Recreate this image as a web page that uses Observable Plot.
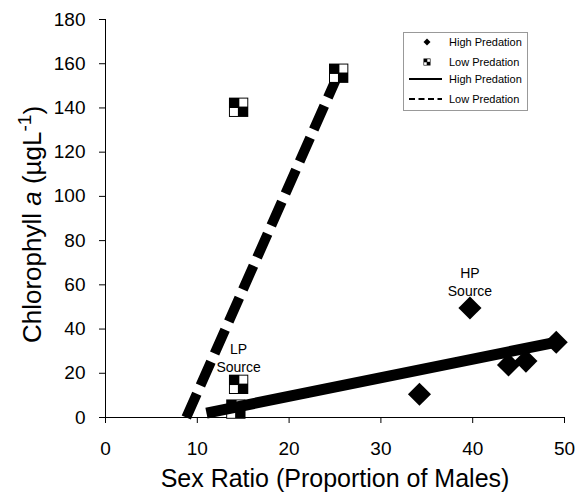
<!DOCTYPE html>
<html>
<head>
<meta charset="utf-8">
<script src="https://cdn.jsdelivr.net/npm/d3@7"></script>
<script src="https://cdn.jsdelivr.net/npm/@observablehq/plot@0.6"></script>
<style>
  body { margin: 0; background: #fff; }
  #wrap { position: relative; width: 577px; height: 495px; font-family: "Liberation Sans", Arial, sans-serif; }
  #legend { position: absolute; left: 403px; top: 32px; width: 125px; height: 79px; border: 1px solid #999; box-sizing: border-box; background: #fff; }
</style>
</head>
<body>
<div id="wrap"><div id="legend"></div></div>
<script>
// High predation (diamonds)
const hpX = [34.2, 39.7, 43.9, 45.8, 49.1];
const hpY = [10.5, 49.5, 23.8, 25.5, 34.0];
// Low predation (checkered squares)
const lpX = [14.2, 14.5, 14.5, 25.4];
const lpY = [3.8, 15.0, 140.3, 155.7];
// Fitted lines
const hpFitX = [11.0, 49.0];
const hpFitY = [2.0, 34.0];
const lpFitX = [8.8, 25.4];
const lpFitY = [0.0, 155.7];
// Annotations
const annX = [39.7, 14.5];
const annY = [49.5, 15.0];
const annText = ["HP\nSource", "LP\nSource"];
// Ticks
const xTicks = [0, 10, 20, 30, 40, 50];
const yTicks = [0, 20, 40, 60, 80, 100, 120, 140, 160, 180];
const xTitle = "Sex Ratio (Proportion of Males)";
const yTitle = "Chlorophyll a (µgL-1)";
const legendLabels = ["High Predation", "Low Predation", "High Predation", "Low Predation"];

const hp = hpX.map((x, i) => ({x, y: hpY[i]}));
const lp = lpX.map((x, i) => ({x, y: lpY[i]}));
const hpFit = hpFitX.map((x, i) => ({x, y: hpFitY[i]}));
const lpFit = lpFitX.map((x, i) => ({x, y: lpFitY[i]}));
const ann = annX.map((x, i) => ({x, y: annY[i], t: annText[i]}));

const chart = Plot.plot({
  width: 577,
  height: 495,
  marginLeft: 105,
  marginRight: 13,
  marginTop: 19,
  marginBottom: 78,
  style: { fontFamily: '"Liberation Sans", Arial, sans-serif', background: "#fff", color: "#000", overflow: "visible" },
  x: { domain: [0, 50] },
  y: { domain: [0, 180] },
  marks: [
    Plot.axisX({ ticks: xTicks, tickSize: 6, tickPadding: 18, fontSize: 19, label: null, stroke: "#000" }),
    Plot.axisY({ ticks: yTicks, tickSize: 6, tickPadding: 14, fontSize: 19, label: null, stroke: "#000" }),
    Plot.ruleY([0], { stroke: "#000" }),
    Plot.ruleX([0], { stroke: "#000" }),
    Plot.line(lpFit, { x: "x", y: "y", stroke: "#000", strokeWidth: 10, strokeDasharray: "26,9", strokeLinecap: "butt" }),
    Plot.dot(lp, { x: "x", y: "y", symbol: "square", r: 10.9, fill: "#000" }),
    Plot.dot(lp, { x: "x", y: "y", symbol: "square", r: 4.5, fill: "#fff", dx: 4.7, dy: -4.7 }),
    Plot.dot(lp, { x: "x", y: "y", symbol: "square", r: 4.5, fill: "#fff", dx: -4.7, dy: 4.7 }),
    Plot.line(hpFit, { x: "x", y: "y", stroke: "#000", strokeWidth: 11, strokeLinecap: "butt" }),
    Plot.dot(hp, { x: "x", y: "y", symbol: "diamond2", r: 10.4, fill: "#000" }),
    Plot.text(ann, { x: "x", y: "y", text: "t", dy: -27, fontSize: 14, lineHeight: 1.3, fill: "#000" }),
    Plot.text([xTitle], { frameAnchor: "bottom", textAnchor: "middle", lineAnchor: "middle", dy: 61, fontSize: 25, fill: "#000" }),
    Plot.text([yTitle], { frameAnchor: "left", textAnchor: "middle", lineAnchor: "middle", dx: -73, dy: 6, rotate: -90, fontSize: 26, fill: "#000" })
  ]
});
document.getElementById("wrap").prepend(chart);

// rich formatting of the y title
d3.select(chart).selectAll("text").filter(function () { return this.textContent === yTitle; })
  .each(function () {
    const t = d3.select(this);
    t.text(null);
    t.append("tspan").text("Chlorophyll ");
    t.append("tspan").attr("font-style", "italic").text("a");
    t.append("tspan").text(" (µgL");
    t.append("tspan").attr("dy", "-0.5em").attr("font-size", "19").text("-1");
    t.append("tspan").attr("dy", "0.4em").text(")");
  });

// legend
const lg = d3.select("#legend").append("svg").attr("width", 123).attr("height", 77)
  .style("position", "absolute").style("left", "0").style("top", "0");
const rowY = [9, 29, 46, 66];
const mx = 23;
// diamond
lg.append("path").attr("d", `M${mx},${rowY[0]-3.5}L${mx+3.5},${rowY[0]}L${mx},${rowY[0]+3.5}L${mx-3.5},${rowY[0]}Z`).attr("fill", "#000");
// checker square
lg.append("rect").attr("x", mx - 3.5).attr("y", rowY[1] - 3.5).attr("width", 7).attr("height", 7).attr("fill", "#000");
lg.append("rect").attr("x", mx + 0.3).attr("y", rowY[1] - 2.8).attr("width", 2.6).attr("height", 2.6).attr("fill", "#fff");
lg.append("rect").attr("x", mx - 2.9).attr("y", rowY[1] + 0.3).attr("width", 2.6).attr("height", 2.6).attr("fill", "#fff");
// lines
lg.append("line").attr("x1", 5).attr("x2", 38).attr("y1", rowY[2]).attr("y2", rowY[2]).attr("stroke", "#000").attr("stroke-width", 2);
lg.append("line").attr("x1", 5).attr("x2", 38).attr("y1", rowY[3]).attr("y2", rowY[3]).attr("stroke", "#000").attr("stroke-width", 2).attr("stroke-dasharray", "6,3.5");
lg.selectAll("text.l").data(legendLabels).join("text")
  .attr("x", 45).attr("y", (d, i) => rowY[i]).attr("dy", "0.35em")
  .attr("font-size", 11).attr("font-family", '"Liberation Sans", Arial, sans-serif').attr("fill", "#000")
  .text(d => d);
</script>
</body>
</html>
